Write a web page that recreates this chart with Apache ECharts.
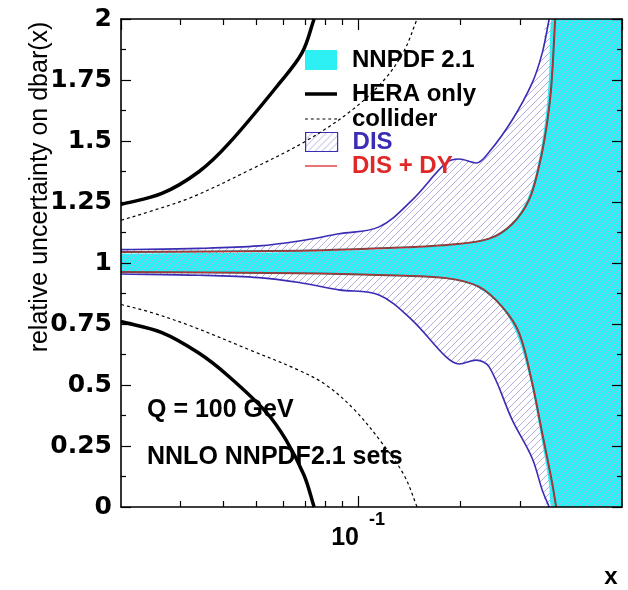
<!DOCTYPE html>
<html><head><meta charset="utf-8">
<script src="https://cdn.jsdelivr.net/npm/echarts@6/dist/echarts.min.js"></script>
<style>html,body{margin:0;padding:0;background:#fff}#c{width:628px;height:590px}</style>
</head><body><div id="c"></div>
<script>
// ---------------- data ----------------
const xMin = 0.02, xMax = 0.6;
const minorTickValues = [0.03, 0.04, 0.05, 0.06, 0.07, 0.08, 0.09, 0.2, 0.3];
const yMin = 0, yMax = 2, yStep = 0.25;

// NNPDF 2.1 band
const nnpdfX    = [0.02, 0.03, 0.045, 0.067, 0.09, 0.1153, 0.1856, 0.2435, 0.2847, 0.3194, 0.342, 0.3586, 0.366, 0.3735, 0.6];
const nnpdfHigh = [1.038, 1.04, 1.042, 1.045, 1.05, 1.055, 1.072, 1.10, 1.165, 1.28, 1.43, 1.62, 1.78, 2.0, 2.0];
const nnpdfLow  = [0.965, 0.964, 0.962, 0.960, 0.956, 0.952, 0.938, 0.87, 0.75, 0.54, 0.33, 0.17, 0.09, 0.0, 0.0];

// DIS band
const disX    = [0.02, 0.034, 0.051, 0.067, 0.0879, 0.1153, 0.1443, 0.1818, 0.1986, 0.2229, 0.2435, 0.2847, 0.3261, 0.349, 0.366, 0.6];
const disHigh = [1.055, 1.06, 1.07, 1.09, 1.12, 1.148, 1.258, 1.41, 1.426, 1.41, 1.455, 1.586, 1.738, 1.86, 2.0, 2.0];
const disLow  = [0.955, 0.95, 0.94, 0.92, 0.89, 0.869, 0.766, 0.615, 0.586, 0.602, 0.574, 0.357, 0.2, 0.07, 0.0, 0.0];

// DIS + DY
const disdyHighX = [0.02, 0.067, 0.1153, 0.1856, 0.2435, 0.2847, 0.3194, 0.342, 0.3586, 0.371, 0.3812];
const disdyHigh  = [1.045, 1.05, 1.06, 1.075, 1.10, 1.16, 1.26, 1.40, 1.55, 1.72, 2.0];
const disdyLowX  = [0.02, 0.067, 0.1153, 0.1818, 0.2275, 0.266, 0.2985, 0.3261, 0.349, 0.3735, 0.3837];
const disdyLow   = [0.963, 0.958, 0.951, 0.938, 0.902, 0.82, 0.713, 0.508, 0.303, 0.098, 0.0];

// HERA only
const heraHighX = [0.02, 0.0264, 0.034, 0.0416, 0.0585, 0.0684, 0.0742];
const heraHigh  = [1.24, 1.285, 1.375, 1.49, 1.735, 1.862, 2.0];
const heraLowX  = [0.02, 0.0264, 0.034, 0.0416, 0.0535, 0.0613, 0.0693, 0.0742];
const heraLow   = [0.76, 0.715, 0.63, 0.535, 0.39, 0.275, 0.13, 0.0];

// collider
const colHighX = [0.02, 0.0242, 0.0324, 0.0477, 0.0702, 0.096, 0.1193, 0.1367, 0.1493];
const colHigh  = [1.175, 1.21, 1.27, 1.38, 1.50, 1.627, 1.75, 1.87, 2.0];
const colLowX  = [0.02, 0.0242, 0.0324, 0.0477, 0.067, 0.0805, 0.0973, 0.1177, 0.1367, 0.1493];
const colLow   = [0.83, 0.80, 0.74, 0.645, 0.56, 0.50, 0.40, 0.262, 0.13, 0.0];

// ---------------- helpers ----------------
const SMOOTH = 0.35;

function clampBox(pt, a, b) {
  return [Math.min(Math.max(pt[0], Math.min(a[0], b[0])), Math.max(a[0], b[0])),
          Math.min(Math.max(pt[1], Math.min(a[1], b[1])), Math.max(a[1], b[1]))];
}
// bezier smoothing of pixel points (same spirit as ECharts line smoothing)
function curveD(pts, s, cmd) {
  const n = pts.length;
  const cpN = [], cpP = [];
  for (let i = 0; i < n; i++) {
    const p = pts[i], a = pts[i - 1] || p, b = pts[i + 1] || p;
    const l0 = Math.hypot(p[0] - a[0], p[1] - a[1]);
    const l1 = Math.hypot(b[0] - p[0], b[1] - p[1]);
    if (l0 > 0 && l1 > 0) {
      const vx = b[0] - a[0], vy = b[1] - a[1];
      const r = l1 / (l0 + l1);
      let nx = clampBox([p[0] + vx * s * r, p[1] + vy * s * r], p, b);
      let px = [p[0] - (nx[0] - p[0]) * l0 / l1, p[1] - (nx[1] - p[1]) * l0 / l1];
      px = clampBox(px, a, p);
      nx = [p[0] + (p[0] - px[0]) * l1 / l0, p[1] + (p[1] - px[1]) * l1 / l0];
      cpN[i] = nx; cpP[i] = px;
    } else {
      cpN[i] = [p[0] + (b[0] - p[0]) * s, p[1] + (b[1] - p[1]) * s];
      cpP[i] = [p[0] - (p[0] - a[0]) * s, p[1] - (p[1] - a[1]) * s];
    }
  }
  let d = `${cmd}${pts[0][0]} ${pts[0][1]}`;
  for (let i = 1; i < n; i++) {
    d += ` C${cpN[i - 1][0]} ${cpN[i - 1][1]} ${cpP[i][0]} ${cpP[i][1]} ${pts[i][0]} ${pts[i][1]}`;
  }
  return d;
}

function makeHatch() {
  const c = document.createElement('canvas');
  const s = 7;
  c.width = s; c.height = s;
  const g = c.getContext('2d');
  g.strokeStyle = '#b3acdf';
  g.lineWidth = 1;
  g.beginPath();
  g.moveTo(0, s); g.lineTo(s, 0);
  g.moveTo(-1, 1); g.lineTo(1, -1);
  g.moveTo(s - 1, s + 1); g.lineTo(s + 1, s - 1);
  g.stroke();
  return c;
}
const hatch = { image: makeHatch(), repeat: 'repeat' };

const CYAN = '#2cf0f4';
const DISBLUE = '#3a2cb4';
const RED = '#e02828';
const FONT = 'Liberation Sans';

// band: fill between lo and hi (custom series, positions via api.coord)
function bandSeries(name, xs, lo, hi, fill, z, outline) {
  return {
    name, type: 'custom', xAxisIndex: 0, yAxisIndex: 0, z, silent: true, animation: false,
    data: xs.map((x, i) => [x, lo[i], hi[i]]),
    encode: { x: 0, y: [1, 2] },
    itemStyle: { color: outline ? outline.color : fill },
    renderItem: (params, api) => {
      if (params.dataIndex !== 0) return null;
      const top = xs.map((x, i) => api.coord([x, hi[i]]));
      const bot = xs.map((x, i) => api.coord([x, lo[i]])).reverse();
      const d = curveD(top, SMOOTH, 'M') + ' ' + curveD(bot, SMOOTH, 'L') + ' Z';
      const children = [{ type: 'path', shape: { pathData: d }, style: { fill, stroke: null } }];
      if (outline) {
        const m = outline.count;
        const t = xs.slice(0, m).map((x, i) => api.coord([x, hi[i]]));
        const b = xs.slice(0, m).map((x, i) => api.coord([x, lo[i]]));
        children.push({ type: 'path', shape: { pathData: curveD(t, SMOOTH, 'M') },
                        style: { fill: null, stroke: outline.color, lineWidth: outline.width } });
        children.push({ type: 'path', shape: { pathData: curveD(b, SMOOTH, 'M') },
                        style: { fill: null, stroke: outline.color, lineWidth: outline.width } });
      }
      return { type: 'group', children };
    }
  };
}

function curveSeries(name, xs, ys, color, width, dash, z) {
  return {
    name, type: 'custom', xAxisIndex: 0, yAxisIndex: 0, z: z || 3, silent: true, animation: false,
    data: xs.map((x, i) => [x, ys[i]]),
    encode: { x: 0, y: 1 },
    itemStyle: { color },
    renderItem: (params, api) => {
      if (params.dataIndex !== 0) return null;
      const pts = xs.map((x, i) => api.coord([x, ys[i]]));
      return { type: 'path', shape: { pathData: curveD(pts, SMOOTH, 'M') },
               style: { fill: null, stroke: color, lineWidth: width, lineDash: dash || null, lineCap: 'butt' } };
    }
  };
}

const chart = echarts.init(document.getElementById('c'), null, { renderer: 'canvas' });

const frameLine = { show: true, lineStyle: { color: '#000', width: 1.6 } };
const tickStyle = { color: '#000', width: 1.2 };

function xAxisPair(pos) {
  return [
    { type: 'log', logBase: 10, min: xMin, max: xMax, position: pos, z: 5,
      axisLine: frameLine,
      axisTick: { show: true, inside: true, length: 6, customValues: minorTickValues, lineStyle: tickStyle },
      axisLabel: { show: false }, splitLine: { show: false } },
    { type: 'log', logBase: 10, min: xMin, max: xMax, position: pos, z: 5,
      axisLine: { show: false },
      axisTick: { show: true, inside: true, length: 11, lineStyle: tickStyle },
      axisLabel: pos === 'bottom' ? {
        show: true, margin: 4, showMinLabel: false, showMaxLabel: false,
        formatter: v => Math.abs(Math.log10(v) + 1) < 1e-6 ? '{a|10}{b|-1}' : '',
        rich: {
          a: { fontFamily: FONT, fontWeight: 'bold', fontSize: 25, lineHeight: 40, verticalAlign: 'bottom', color: '#000' },
          b: { fontFamily: FONT, fontWeight: 'bold', fontSize: 18, lineHeight: 18, verticalAlign: 'top', color: '#000', padding: [0, 0, 0, 10] }
        }
      } : { show: false },
      splitLine: { show: false } }
  ];
}

function yAxisDef(pos) {
  return {
    type: 'value', min: yMin, max: yMax, interval: yStep, position: pos, z: 5,
    axisLine: frameLine,
    axisTick: { show: true, inside: true, length: 10, lineStyle: tickStyle },
    minorTick: { show: true, splitNumber: 2, length: 5, lineStyle: tickStyle },
    splitLine: { show: false },
    axisLabel: pos === 'left' ? {
      show: true, margin: 9, color: '#000', fontFamily: 'DejaVu Sans', fontWeight: 'bold', fontSize: 25
    } : { show: false }
  };
}

const series = [
  bandSeries('NNPDF 2.1', nnpdfX, nnpdfLow, nnpdfHigh, CYAN, 1, null),
  bandSeries('DIS', disX, disLow, disHigh, hatch, 2, { color: DISBLUE, width: 1.6, count: 15 }),
  curveSeries('_dyHiGray', disdyHighX, disdyHigh, '#505050', 2),
  curveSeries('_dyLoGray', disdyLowX, disdyLow, '#505050', 2),
  curveSeries('DIS + DY', disdyHighX, disdyHigh, RED, 0.8),
  curveSeries('DIS + DY', disdyLowX, disdyLow, RED, 0.8),
  curveSeries('HERA only', heraHighX, heraHigh, '#000', 3.5, null, 4),
  curveSeries('HERA only', heraLowX, heraLow, '#000', 3.5, null, 4),
  curveSeries('collider', colHighX, colHigh, '#000', 1.2, [3, 3], 4),
  curveSeries('collider', colLowX, colLow, '#000', 1.2, [3, 3], 4)
];

function dashPath() {
  let p = 'path://';
  for (let i = 0; i < 6; i++) { const x = i * 6; p += `M${x},0h3v1h-3z`; }
  return p;
}

const legendRows = [
  { name: 'NNPDF 2.1', center: 58, icon: 'rect', h: 20, itemStyle: { color: CYAN, borderWidth: 0, opacity: 1 }, color: '#000' },
  { name: 'HERA only', center: 92, icon: 'rect', h: 3.5, itemStyle: { color: '#000', borderWidth: 0, opacity: 1 }, color: '#000' },
  { name: 'collider', center: 117, icon: dashPath(), h: 1.3, itemStyle: { color: '#000', borderWidth: 0, opacity: 1 }, color: '#000' },
  { name: 'DIS', center: 140, icon: 'rect', h: 19, itemStyle: { color: hatch, borderColor: DISBLUE, borderWidth: 1.2, opacity: 1 }, color: DISBLUE },
  { name: 'DIS + DY', center: 164, icon: 'rect', h: 1.3, itemStyle: { color: RED, borderWidth: 0, opacity: 1 }, color: RED }
];

const legends = legendRows.map(r => ({
  show: true, selectedMode: false, orient: 'horizontal',
  left: 305, top: r.center - 10, padding: 0,
  itemWidth: 32, itemHeight: r.h,
  data: [{ name: r.name, icon: r.icon, itemStyle: r.itemStyle }],
  textStyle: { color: r.color, fontFamily: FONT, fontWeight: 'bold', fontSize: 24, lineHeight: 20, padding: [0, 0, 0, 10] }
}));

const option = {
  animation: false,
  backgroundColor: '#fff',
  grid: { left: 121, right: 6, top: 19, bottom: 83, containLabel: false },
  xAxis: [...xAxisPair('bottom'), ...xAxisPair('top')],
  yAxis: [yAxisDef('left'), yAxisDef('right')],
  legend: legends,
  series,
  graphic: [
    { type: 'text', x: 40, y: 187, rotation: Math.PI / 2, z: 10,
      style: { text: 'relative uncertainty on dbar(x)', font: `25px "${FONT}"`, fill: '#000',
               align: 'center', verticalAlign: 'middle', textAlign: 'center', textVerticalAlign: 'middle' } },
    { type: 'text', x: 147, y: 410, z: 10,
      style: { text: 'Q = 100 GeV', font: `bold 25px "${FONT}"`, fill: '#000',
               align: 'left', verticalAlign: 'middle', textAlign: 'left', textVerticalAlign: 'middle' } },
    { type: 'text', x: 147, y: 457, z: 10,
      style: { text: 'NNLO NNPDF2.1 sets', font: `bold 25px "${FONT}"`, fill: '#000',
               align: 'left', verticalAlign: 'middle', textAlign: 'left', textVerticalAlign: 'middle' } },
    { type: 'text', x: 611, y: 577, z: 10,
      style: { text: 'x', font: `bold 24px "${FONT}"`, fill: '#000',
               align: 'center', verticalAlign: 'middle', textAlign: 'center', textVerticalAlign: 'middle' } }
  ]
};
chart.setOption(option);
</script>
</body></html>
